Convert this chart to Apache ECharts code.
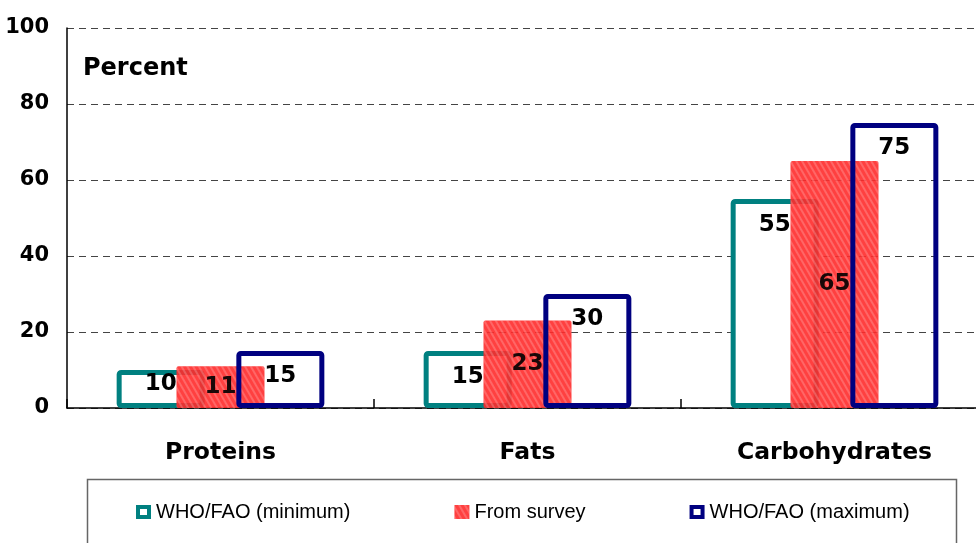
<!DOCTYPE html>
<html>
<head>
<meta charset="utf-8">
<script src="https://cdn.jsdelivr.net/npm/echarts@6/dist/echarts.min.js"></script>
<style>
html, body { margin: 0; padding: 0; background: #fff; }
#chart { width: 976px; height: 543px; }
</style>
</head>
<body>
<div id="chart"></div>
<script>
// values
var categories = ['Proteins', 'Fats', 'Carbohydrates'];
var whoMin = [10, 15, 55];
var survey = [11, 23, 65];
var whoMax = [15, 30, 75];
var seriesNames = ['WHO/FAO (minimum)', 'From survey', 'WHO/FAO (maximum)'];

var teal = '#008080';
var navy = '#000080';
var red = '#ff2b2b';

// square ring used for the outlined legend keys
var ringIcon = 'path://M0,0H15V14H0Z M4,4V10H11V4Z';

var chart = echarts.init(document.getElementById('chart'));

var labelFont = {
	fontFamily: 'DejaVu Sans',
	fontWeight: 'bold',
	fontSize: 23,
	color: '#000'
};

// the teal 10 sits low in its short bar
var minData = whoMin.map(function (v, i) {
	if (i === 0) return { value: v, label: { distance: 3 } };
	return v;
});

var option = {
	backgroundColor: '#fff',
	animation: false,
	title: {
		text: 'Percent',
		left: 83,
		top: 57,
		padding: 0,
		textStyle: { fontFamily: 'DejaVu Sans', fontWeight: 'bold', fontSize: 24, color: '#000' }
	},
	grid: { left: 67, width: 921, top: 28, height: 380, containLabel: false, outerBoundsMode: 'none' },
	xAxis: {
		type: 'category',
		data: categories,
		axisLine: { lineStyle: { color: '#000', width: 1.5 } },
		axisTick: { show: true, inside: true, length: 9, lineStyle: { color: '#000', width: 1.5 } },
		axisLabel: {
			margin: 33,
			fontFamily: 'DejaVu Sans',
			fontWeight: 'bold',
			fontSize: 23.5,
			color: '#000'
		}
	},
	yAxis: {
		type: 'value',
		min: 0,
		max: 100,
		interval: 20,
		axisLine: { show: true, lineStyle: { color: '#000', width: 1.5 } },
		axisTick: { show: false },
		axisLabel: {
			margin: 18,
			fontFamily: 'DejaVu Sans',
			fontWeight: 'bold',
			fontSize: 21,
			color: '#000'
		},
		splitLine: { show: true, lineStyle: { color: '#444', type: [7, 5], width: 1.2 } }
	},
	legend: {
		left: 136,
		top: 502,
		padding: 0,
		itemGap: 104,
		itemWidth: 15,
		itemHeight: 14,
		itemTextGap: 7,
		textStyle: { fontFamily: 'Liberation Sans', fontSize: 20, color: '#000' },
		data: [
			{ name: seriesNames[0], icon: ringIcon, itemStyle: { color: teal, borderWidth: 0, decal: 'none' } },
			{ name: seriesNames[1], icon: 'rect', itemStyle: { color: red, borderWidth: 0 } },
			{ name: seriesNames[2], icon: ringIcon, itemStyle: { color: navy, borderWidth: 0, decal: 'none' } }
		]
	},
	graphic: [{
		type: 'rect',
		shape: { x: 87.5, y: 479.5, width: 869, height: 90 },
		style: { fill: 'none', stroke: '#666', lineWidth: 1.5 },
		silent: true
	}],
	series: [
		{
			name: seriesNames[0],
			type: 'bar',
			data: minData,
			barWidth: 88,
			barGap: '-32%',
			itemStyle: { color: '#fff', borderColor: teal, borderWidth: 5, borderRadius: 2 },
			label: Object.assign({ show: true, position: 'insideTop', distance: 15 }, labelFont)
		},
		{
			name: seriesNames[1],
			type: 'bar',
			data: survey,
			barWidth: 88,
			barGap: '-32%',
			itemStyle: {
				color: red,
				opacity: 0.9,
				borderRadius: 2,
				decal: {
					symbol: 'rect',
					color: 'rgba(255,255,255,0.22)',
					dashArrayX: [1, 0],
					dashArrayY: [2, 3],
					rotation: Math.PI / 3
				}
			},
			label: Object.assign({ show: true, position: 'inside' }, labelFont)
		},
		{
			name: seriesNames[2],
			type: 'bar',
			data: whoMax,
			barWidth: 88,
			barGap: '-32%',
			itemStyle: { color: 'rgba(255,255,255,0)', borderColor: navy, borderWidth: 5, borderRadius: 2 },
			label: Object.assign({ show: true, position: 'insideTop', distance: 14 }, labelFont)
		}
	]
};

chart.setOption(option);
</script>
</body>
</html>
